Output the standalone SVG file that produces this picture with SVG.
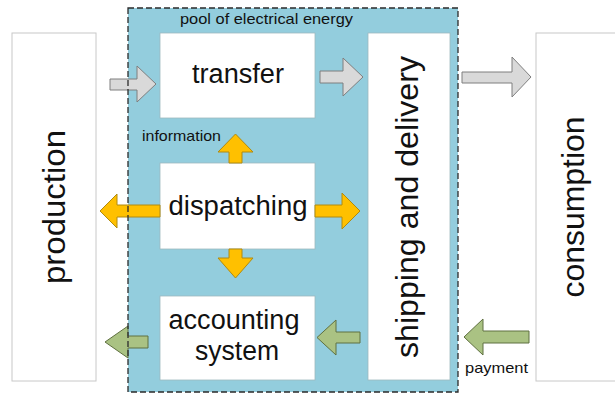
<svg xmlns="http://www.w3.org/2000/svg" width="615" height="394" viewBox="0 0 615 394">
  <style>
    .box { fill: #ffffff; stroke: #c8c8c8; stroke-width: 1; }
    .inbox { fill: #ffffff; stroke: #9fb8bf; stroke-width: 0.8; }
    .big { font-family: "Liberation Sans", Arial, sans-serif; font-size: 27px; fill: #111111; }
    .vert { font-family: "Liberation Sans", Arial, sans-serif; font-size: 32px; fill: #111111; }
    .small { font-family: "Liberation Sans", Arial, sans-serif; font-size: 15px; fill: #111111; }
    .gray { fill: #d9d9d9; stroke: #7f7f7f; stroke-width: 1; }
    .yellow { fill: #ffc000; stroke: #b08a10; stroke-width: 1; }
    .green { fill: #aac283; stroke: #5f7040; stroke-width: 1; }
  </style>

  <rect width="615" height="394" fill="#ffffff"/>

  <!-- energy pool background -->
  <g id="pool">
    <rect x="128" y="8" width="330" height="384" fill="#93cddd"/>
    <text class="small" x="180" y="24" font-size="16" textLength="173" lengthAdjust="spacingAndGlyphs">pool of electrical energy</text>
  </g>

  <g id="production">
    <rect class="box" x="12" y="33" width="84" height="348"/>
    <text class="vert" transform="translate(65,207) rotate(-90)" text-anchor="middle" textLength="154" lengthAdjust="spacingAndGlyphs">production</text>
  </g>

  <g id="consumption">
    <rect class="box" x="536" y="33" width="90" height="348"/>
    <text class="vert" transform="translate(584,207) rotate(-90)" text-anchor="middle" textLength="181" lengthAdjust="spacingAndGlyphs">consumption</text>
  </g>

  <g id="transfer">
    <rect class="inbox" x="160" y="33" width="155" height="85"/>
    <text class="big" x="238" y="83" text-anchor="middle" textLength="92" lengthAdjust="spacingAndGlyphs">transfer</text>
  </g>

  <g id="dispatching">
    <rect class="inbox" x="160" y="163" width="155" height="86"/>
    <text class="big" x="238" y="215" text-anchor="middle" textLength="139" lengthAdjust="spacingAndGlyphs">dispatching</text>
  </g>

  <g id="accounting">
    <rect class="inbox" x="160" y="296" width="155" height="84"/>
    <text class="big" x="234" y="329" text-anchor="middle" textLength="131" lengthAdjust="spacingAndGlyphs">accounting</text>
    <text class="big" x="237" y="360" text-anchor="middle" textLength="84" lengthAdjust="spacingAndGlyphs">system</text>
  </g>

  <g id="shipping">
    <rect class="inbox" x="368" y="33" width="82" height="347"/>
    <text class="vert" transform="translate(418,207) rotate(-90)" text-anchor="middle" textLength="302" lengthAdjust="spacingAndGlyphs">shipping and delivery</text>
  </g>

  <g id="connectors">
    <!-- energy flow -->
    <path class="gray" d="M110,79 H137 V66 L156,84 L137,102 V90 H110 Z"/>
    <path class="gray" d="M320,71 H343 V58 L363,77 L343,96 V83 H320 Z"/>
    <path class="gray" d="M462,72 H512 V57 L531,77 L512,97 V83 H462 Z"/>
    <!-- information flow -->
    <path class="yellow" d="M229,163 V152 H218 L235.5,134 L253,152 H242 V163 Z"/>
    <path class="yellow" d="M229,249 V258 H218 L235.5,278 L253,258 H242 V249 Z"/>
    <path class="yellow" d="M160,205 H117 V194 L100,211 L117,228 V217 H160 Z"/>
    <path class="yellow" d="M315,205 H342 V193 L360,211 L342,229 V217 H315 Z"/>
    <!-- payment flow -->
    <path class="green" d="M148,336 H128 V326 L105,342 L128,358 V348 H148 Z"/>
    <path class="green" d="M360,332 H336 V320 L317,337.5 L336,355 V343 H360 Z"/>
    <path class="green" d="M529,331 H483 V319 L464,337 L483,355 V343 H529 Z"/>
    <text class="small" x="142" y="141" textLength="79" lengthAdjust="spacingAndGlyphs">information</text>
    <text class="small" x="465" y="373" textLength="63" lengthAdjust="spacingAndGlyphs">payment</text>
  </g>

  <!-- dashed pool boundary drawn above the flows -->
  <g id="pool-outline">
    <rect x="128" y="8" width="330" height="384" fill="none" stroke="#2b2b2b" stroke-width="1.3" stroke-dasharray="6,3"/>
  </g>
</svg>
